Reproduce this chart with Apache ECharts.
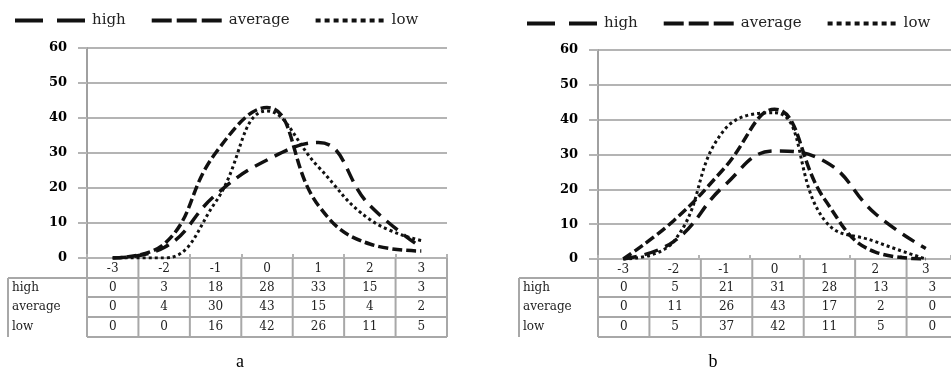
<!DOCTYPE html>
<html>
<head>
<meta charset="utf-8">
<script src="https://cdn.jsdelivr.net/npm/echarts@6/dist/echarts.min.js"></script>
<style>
html,body{margin:0;padding:0;background:#fff;}
#c{width:951px;height:372px;}
</style>
</head>
<body>
<div id="c"></div>
<script>
const categories = ['-3','-2','-1','0','1','2','3'];
const seriesNames = ['high','average','low'];
const highA = [0,3,18,28,33,15,3];
const averageA = [0,4,30,43,15,4,2];
const lowA = [0,0,16,42,26,11,5];
const highB = [0,5,21,31,28,13,3];
const averageB = [0,11,26,43,17,2,0];
const lowB = [0,5,37,42,11,5,0];
const yMin = 0, yMax = 60, yStep = 10;
const captions = ['a','b'];

const FONT = 'DejaVu Serif';
const GRID_COL = '#b4b4b4';
const BORDER_COL = '#a8a8a8';

const panels = [
  {left: 87, top: 48, width: 360, height: 210, labelLeft: 8, legendLeft: 10, legendTop: 8, capX: 240,
   data: [highA, averageA, lowA]},
  {left: 598, top: 50, width: 360, height: 209, labelLeft: 519, legendLeft: 522, legendTop: 11, capX: 713,
   data: [highB, averageB, lowB]}
];
const rowBounds = [278, 297, 317, 337];

const lineStyles = [
  {type: [14, 8], width: 3.5},
  {type: [10, 4], width: 3.5},
  {type: [3, 3], width: 3}
];
const legendIcons = [
  'path://M0,0h28v4h-28zM42,0h28v4h-28z',
  'path://M0,0h20v4h-20zM25,0h20v4h-20zM50,0h20v4h-20z',
  'path://M0,0h5v4h-5zM9,0h5v4h-5zM18,0h5v4h-5zM27,0h5v4h-5zM36,0h5v4h-5zM45,0h5v4h-5zM54,0h5v4h-5zM63,0h5v4h-5z'
];

const grids = [], xAxes = [], yAxes = [], series = [], legends = [], graphics = [];

panels.forEach((p, pi) => {
  grids.push({left: p.left, top: p.top, width: p.width, height: p.height, containLabel: false});
  xAxes.push({
    type: 'category', gridIndex: pi, data: categories, boundaryGap: true,
    axisLine: {show: false},
    axisTick: {show: true, inside: true, length: 4, lineStyle: {color: GRID_COL, width: 2}},
    axisLabel: {margin: 5, fontFamily: FONT, fontSize: 12, color: '#222'}
  });
  yAxes.push({
    type: 'value', gridIndex: pi, min: yMin, max: yMax, interval: yStep,
    axisLine: {show: true, lineStyle: {color: '#a0a0a0', width: 2}},
    axisTick: {show: true, length: 9, lineStyle: {color: GRID_COL, width: 2}},
    axisLabel: {margin: 20, fontFamily: FONT, fontWeight: 'bold', fontSize: 13, color: '#000'},
    splitLine: {show: true, lineStyle: {color: GRID_COL, width: 2}}
  });
  seriesNames.forEach((n, si) => {
    series.push({
      name: n, type: 'line', xAxisIndex: pi, yAxisIndex: pi,
      data: p.data[si], smooth: 0.45, symbol: 'none',
      lineStyle: Object.assign({color: '#111', cap: 'butt'}, lineStyles[si]),
      itemStyle: {color: '#111'},
      z: 3
    });
  });
  legends.push({
    left: p.legendLeft, top: p.legendTop, itemWidth: 70, itemHeight: 4, itemGap: 26,
    textStyle: {fontFamily: FONT, fontSize: 15, color: '#222', padding: [0, 0, 0, 2]},
    data: seriesNames.map((n, si) => ({name: n, icon: legendIcons[si]}))
  });

  const colW = p.width / categories.length;
  const right = p.left + p.width;
  const tableTop = p.top + p.height;
  rowBounds.forEach((y, ri) => {
    graphics.push({type: 'line', shape: {x1: ri === 0 ? p.labelLeft : p.left, y1: y, x2: right, y2: y},
      style: {stroke: BORDER_COL, lineWidth: 2}, z: 1});
  });
  for (let i = 0; i <= categories.length; i++) {
    const x = p.left + i * colW;
    graphics.push({type: 'line', shape: {x1: x, y1: tableTop, x2: x, y2: rowBounds[3]},
      style: {stroke: BORDER_COL, lineWidth: 2}, z: 1});
  }
  graphics.push({type: 'line', shape: {x1: p.labelLeft, y1: rowBounds[0], x2: p.labelLeft, y2: rowBounds[3]},
    style: {stroke: BORDER_COL, lineWidth: 2}, z: 1});
  seriesNames.forEach((n, si) => {
    const yc = (rowBounds[si] + rowBounds[si + 1]) / 2;
    graphics.push({type: 'text', x: p.labelLeft + 4, y: yc,
      style: {text: n, fontFamily: FONT, fontSize: 12, fill: '#222', textAlign: 'left', textVerticalAlign: 'middle'}, z: 2});
    p.data[si].forEach((v, ci) => {
      graphics.push({type: 'text', x: p.left + (ci + 0.5) * colW, y: yc,
        style: {text: String(v), fontFamily: FONT, fontSize: 12, fill: '#222', textAlign: 'center', textVerticalAlign: 'middle'}, z: 2});
    });
  });
  graphics.push({type: 'text', x: p.capX, y: 362,
    style: {text: captions[pi], fontFamily: 'Liberation Serif', fontSize: 18, fill: '#000', textAlign: 'center', textVerticalAlign: 'middle'}, z: 2});
});

const chart = echarts.init(document.getElementById('c'), null, {renderer: 'canvas'});
chart.setOption({
  animation: false,
  backgroundColor: '#fff',
  grid: grids, xAxis: xAxes, yAxis: yAxes, series: series, legend: legends,
  graphic: graphics
});
</script>
</body>
</html>
